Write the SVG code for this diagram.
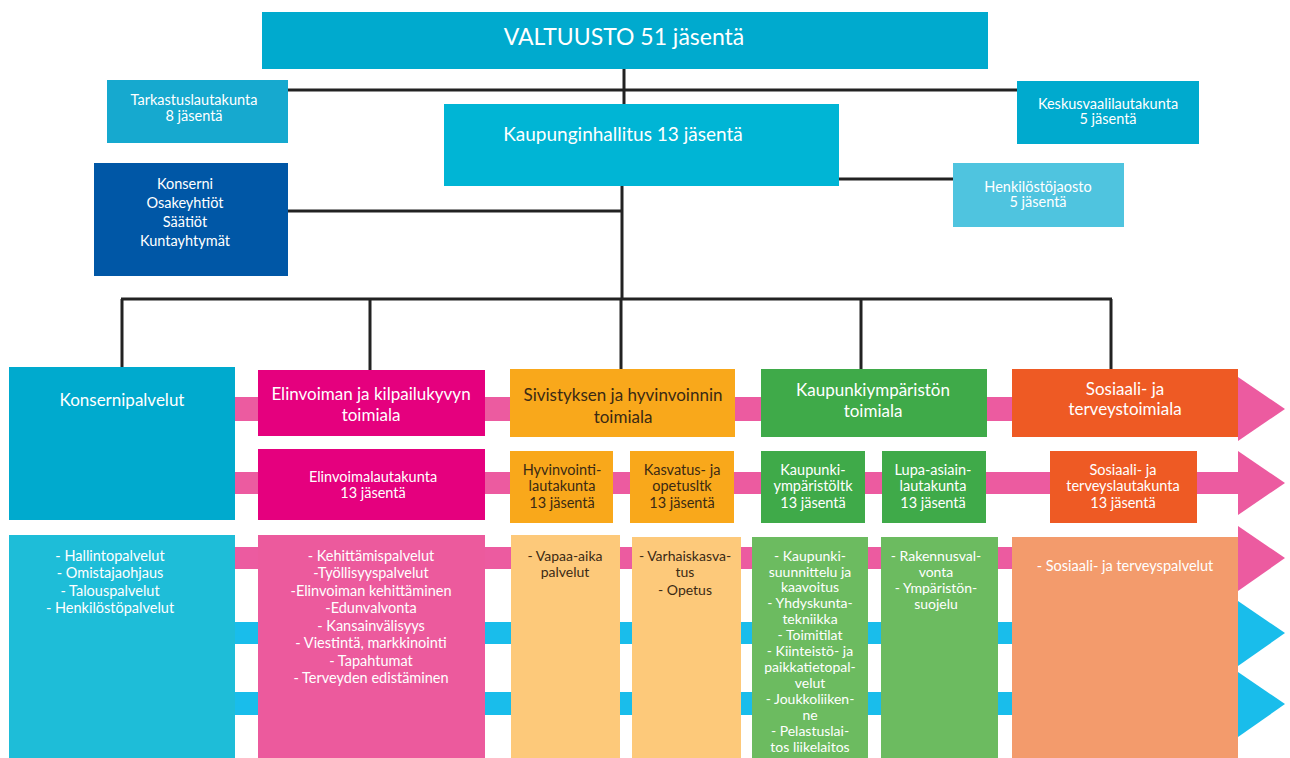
<svg xmlns="http://www.w3.org/2000/svg" width="1290" height="758" viewBox="0 0 1290 758">
<style>
text{font-family:Lato,"Open Sans","DejaVu Sans",sans-serif;text-anchor:middle;fill:#fff}
.dk{fill:#3b2a14}
.f22{font-size:23px}
.f19{font-size:19px}
.f17{font-size:17px}
.f15{font-size:14.5px}
.f14{font-size:14px}
.ln{stroke:#222;stroke-width:3;fill:none}
.pk{fill:#EC5BA0}
.cy{fill:#19BDEB}
</style>
<rect width="1290" height="758" fill="#fff"/>
<g id="connectors">
<path class="ln" d="M624 69V104M288 90H1017M622 186V299M288 211H622M839 179H953M121 299H1112M122 299V367M370 299V370M621 299V369M861 299V369M1111 299V369"/>
<rect class="pk" x="235" y="397" width="1005" height="24"/>
<polygon class="pk" points="1238,377 1285,409 1238,441"/>
<rect class="pk" x="235" y="472" width="1005" height="22"/>
<polygon class="pk" points="1238,451 1285,483 1238,515"/>
<rect class="pk" x="235" y="547" width="1005" height="22"/>
<polygon class="pk" points="1238,526 1285,558 1238,591"/>
<rect class="cy" x="235" y="622" width="1005" height="22"/>
<polygon class="cy" points="1238,601 1285,633 1238,666"/>
<rect class="cy" x="235" y="692" width="1005" height="23"/>
<polygon class="cy" points="1238,672 1285,704 1238,737"/>
</g>
<g id="valtuusto"><rect x="262" y="12" width="726" height="57" fill="#00AACE"/><text class="f22" x="624" y="45">VALTUUSTO 51 jäsentä</text></g>
<g id="tarkastus"><rect x="107" y="80" width="181" height="63" fill="#16A9CF"/><text class="f15" x="194" y="105">Tarkastuslautakunta</text><text class="f15" x="194" y="121">8 jäsentä</text></g>
<g id="keskusvaali"><rect x="1017" y="81" width="182" height="63" fill="#00AACE"/><text class="f15" x="1108" y="109">Keskusvaalilautakunta</text><text class="f15" x="1108" y="124">5 jäsentä</text></g>
<g id="kaupunginhallitus"><rect x="444" y="104" width="395" height="82" fill="#00B5D5"/><text class="f19" x="623" y="141">Kaupunginhallitus 13 jäsentä</text></g>
<g id="henkilosto"><rect x="953" y="163" width="171" height="64" fill="#4FC4DF"/><text class="f15" x="1038" y="192">Henkilöstöjaosto</text><text class="f15" x="1038" y="207">5 jäsentä</text></g>
<g id="konserni"><rect x="94" y="163" width="194" height="113" fill="#0057A6"/><text class="f15" x="185" y="189">Konserni</text><text class="f15" x="185" y="208">Osakeyhtiöt</text><text class="f15" x="185" y="227">Säätiöt</text><text class="f15" x="185" y="246">Kuntayhtymät</text></g>

<g id="konsernipalvelut"><rect x="9" y="367" width="226" height="153" fill="#00AACE"/><text class="f17" x="122" y="406">Konsernipalvelut</text></g>
<g id="elinvoima"><rect x="258" y="370" width="227" height="66" fill="#E5007E"/><text class="f17" x="371" y="400">Elinvoiman ja kilpailukyvyn</text><text class="f17" x="371" y="421">toimiala</text></g>
<g id="sivistys"><rect x="510" y="369" width="225" height="68" fill="#F9A81B"/><text class="f17 dk" x="623" y="401">Sivistyksen ja hyvinvoinnin</text><text class="f17 dk" x="623" y="423">toimiala</text></g>
<g id="kaupunkiymparisto"><rect x="761" y="369" width="226" height="68" fill="#3FAA49"/><text class="f17" x="873" y="396">Kaupunkiympäristön</text><text class="f17" x="873" y="417">toimiala</text></g>
<g id="sosiaali"><rect x="1012" y="369" width="226" height="68" fill="#EE5A24"/><text class="f17" x="1125" y="395">Sosiaali- ja</text><text class="f17" x="1125" y="415">terveystoimiala</text></g>

<g id="elinvoimalautakunta"><rect x="258" y="449" width="227" height="71" fill="#E5007E"/><text class="f15" x="373" y="482">Elinvoimalautakunta</text><text class="f15" x="373" y="498">13 jäsentä</text></g>
<g id="hyvinvointilautakunta"><rect x="510" y="451" width="103" height="72" fill="#F9A81B"/><text class="f15 dk" x="562" y="475">Hyvinvointi-</text><text class="f15 dk" x="562" y="491">lautakunta</text><text class="f15 dk" x="562" y="508">13 jäsentä</text></g>
<g id="kasvatuslautakunta"><rect x="630" y="451" width="104" height="72" fill="#F9A81B"/><text class="f15 dk" x="682" y="475">Kasvatus- ja</text><text class="f15 dk" x="682" y="491">opetusltk</text><text class="f15 dk" x="682" y="508">13 jäsentä</text></g>
<g id="kaupunkiymparistoltk"><rect x="761" y="451" width="104" height="72" fill="#3FAA49"/><text class="f15" x="813" y="475">Kaupunki-</text><text class="f15" x="813" y="491">ympäristöltk</text><text class="f15" x="813" y="508">13 jäsentä</text></g>
<g id="lupalautakunta"><rect x="882" y="451" width="104" height="72" fill="#3FAA49"/><text class="f15" x="933" y="475">Lupa-asiain-</text><text class="f15" x="933" y="491">lautakunta</text><text class="f15" x="933" y="508">13 jäsentä</text></g>
<g id="sosiaalilautakunta"><rect x="1050" y="451" width="147" height="72" fill="#EE5A24"/><text class="f15" x="1123" y="475">Sosiaali- ja</text><text class="f15" x="1123" y="491">terveyslautakunta</text><text class="f15" x="1123" y="508">13 jäsentä</text></g>

<g id="konsernipalvelut-lista"><rect x="9" y="535" width="226" height="223" fill="#1EBDD8"/><text class="f15" x="110" y="561">- Hallintopalvelut</text><text class="f15" x="110" y="578">- Omistajaohjaus</text><text class="f15" x="110" y="596">- Talouspalvelut</text><text class="f15" x="110" y="613">- Henkilöstöpalvelut</text></g>
<g id="elinvoima-lista"><rect x="258" y="535" width="227" height="223" fill="#EC5A9D"/><text class="f15" x="371" y="561">- Kehittämispalvelut</text><text class="f15" x="371" y="578">-Työllisyyspalvelut</text><text class="f15" x="371" y="596">-Elinvoiman kehittäminen</text><text class="f15" x="371" y="613">-Edunvalvonta</text><text class="f15" x="371" y="631">- Kansainvälisyys</text><text class="f15" x="371" y="648">- Viestintä, markkinointi</text><text class="f15" x="371" y="666">- Tapahtumat</text><text class="f15" x="371" y="683">- Terveyden edistäminen</text></g>
<g id="vapaa-aika-lista"><rect x="511" y="535" width="109" height="223" fill="#FDC97A"/><text class="f14 dk" x="565" y="561">- Vapaa-aika</text><text class="f14 dk" x="565" y="577">palvelut</text></g>
<g id="varhaiskasvatus-lista"><rect x="632" y="537" width="109" height="221" fill="#FDC97A"/><text class="f14 dk" x="685" y="561">- Varhaiskasva-</text><text class="f14 dk" x="685" y="577">tus</text><text class="f14 dk" x="685" y="595">- Opetus</text></g>
<g id="kaupunki-lista"><rect x="752" y="537" width="116" height="221" fill="#6CBB60"/>
<text class="f14" x="810" y="561">- Kaupunki-</text><text class="f14" x="810" y="577">suunnittelu ja</text><text class="f14" x="810" y="592">kaavoitus</text><text class="f14" x="810" y="608">- Yhdyskunta-</text><text class="f14" x="810" y="624">tekniikka</text><text class="f14" x="810" y="640">- Toimitilat</text><text class="f14" x="810" y="656">- Kiinteistö- ja</text><text class="f14" x="810" y="672">paikkatietopal-</text><text class="f14" x="810" y="688">velut</text><text class="f14" x="810" y="704">- Joukkoliiken-</text><text class="f14" x="810" y="720">ne</text><text class="f14" x="810" y="736">- Pelastuslai-</text><text class="f14" x="810" y="752">tos liikelaitos</text></g>
<g id="rakennus-lista"><rect x="881" y="537" width="117" height="221" fill="#6CBB60"/><text class="f14" x="936" y="561">- Rakennusval-</text><text class="f14" x="936" y="577">vonta</text><text class="f14" x="936" y="593">- Ympäristön-</text><text class="f14" x="936" y="609">suojelu</text></g>
<g id="sosiaali-lista"><rect x="1012" y="537" width="226" height="221" fill="#F39B6C"/><text class="f15" x="1125" y="571">- Sosiaali- ja terveyspalvelut</text></g>
</svg>
